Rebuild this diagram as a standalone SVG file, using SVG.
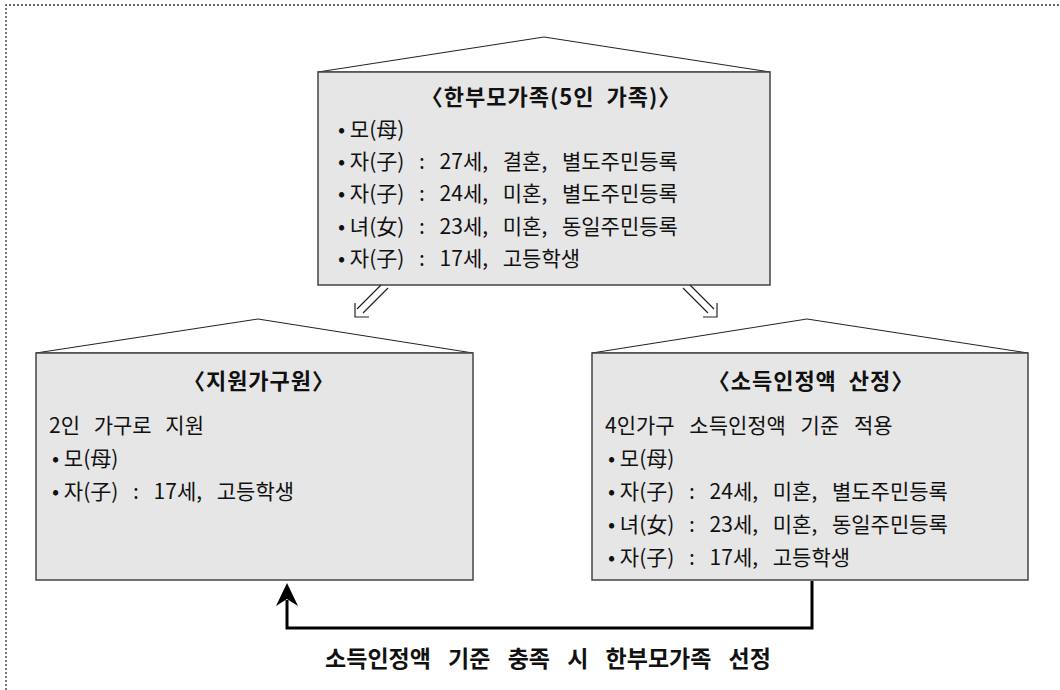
<svg xmlns="http://www.w3.org/2000/svg" width="1060" height="690" viewBox="0 0 1060 690">
<defs>
<style>
.frame{fill:none;stroke:#333;stroke-width:1.3;stroke-dasharray:2 2}
.roof{fill:#fff;stroke:#222;stroke-width:1}
.box{fill:#e6e6e6;stroke:#444;stroke-width:1.5}
.t{font-family:"Noto Sans CJK KR","Noto Sans",sans-serif;font-size:21px;fill:#111}
.w{word-spacing:10px}
.h{font-family:"Noto Sans CJK KR","Noto Sans",sans-serif;font-size:22px;font-weight:bold;fill:#111;text-anchor:middle;letter-spacing:1px;word-spacing:6px}
.dbl{fill:none;stroke:#222;stroke-width:1.2}
.conn{fill:none;stroke:#000;stroke-width:3}
</style>
</defs>
<path class="frame" d="M6 690 V5 H1060"/>
<g id="node-top">
<polygon class="roof" points="318,72 544,37 770,72"/>
<rect class="box" x="318" y="72" width="452" height="213"/>
<text class="h" x="551" y="105">〈한부모가족(5인 가족)〉</text>
<text class="t" x="338" y="137">• 모(母)</text>
<text class="t" x="338" y="169">• <tspan class="w">자(子) : 27세, 결혼, 별도주민등록</tspan></text>
<text class="t" x="338" y="201">• <tspan class="w">자(子) : 24세, 미혼, 별도주민등록</tspan></text>
<text class="t" x="338" y="234">• <tspan class="w">녀(女) : 23세, 미혼, 동일주민등록</tspan></text>
<text class="t" x="338" y="266">• <tspan class="w">자(子) : 17세, 고등학생</tspan></text>
</g>
<g id="node-left">
<polygon class="roof" points="36,353 258,319 473,353"/>
<rect class="box" x="36" y="353" width="437" height="227"/>
<text class="h" x="259" y="389">〈지원가구원〉</text>
<text class="t" x="49" y="433" style="word-spacing:9px">2인 가구로 지원</text>
<text class="t" x="52" y="466">• 모(母)</text>
<text class="t" x="52" y="499">• <tspan class="w">자(子) : 17세, 고등학생</tspan></text>
</g>
<g id="node-right">
<polygon class="roof" points="592,353 807,319 1028,353"/>
<rect class="box" x="592" y="353" width="436" height="227"/>
<text class="h" x="811" y="389">〈소득인정액 산정〉</text>
<text class="t w" x="605" y="433">4인가구 소득인정액 기준 적용</text>
<text class="t" x="608" y="466">• 모(母)</text>
<text class="t" x="608" y="499">• <tspan class="w">자(子) : 24세, 미혼, 별도주민등록</tspan></text>
<text class="t" x="608" y="532">• <tspan class="w">녀(女) : 23세, 미혼, 동일주민등록</tspan></text>
<text class="t" x="608" y="565">• <tspan class="w">자(子) : 17세, 고등학생</tspan></text>
</g>
<g id="connectors">
<path class="dbl" d="M381 285 L357 309 M388 288 L363 313 M355 303 V317 H369"/>
<path class="dbl" d="M690 285 L714 309 M683 288 L708 313 M717 303 V317 H703"/>
<path class="conn" d="M812 581 V628 H287 V600"/>
<polygon points="287,583 298,606 287,599 276,606" fill="#000"/>
</g>
<text class="h" x="548" y="667" style="font-size:23px;letter-spacing:0;word-spacing:12px">소득인정액 기준 충족 시 한부모가족 선정</text>
</svg>
